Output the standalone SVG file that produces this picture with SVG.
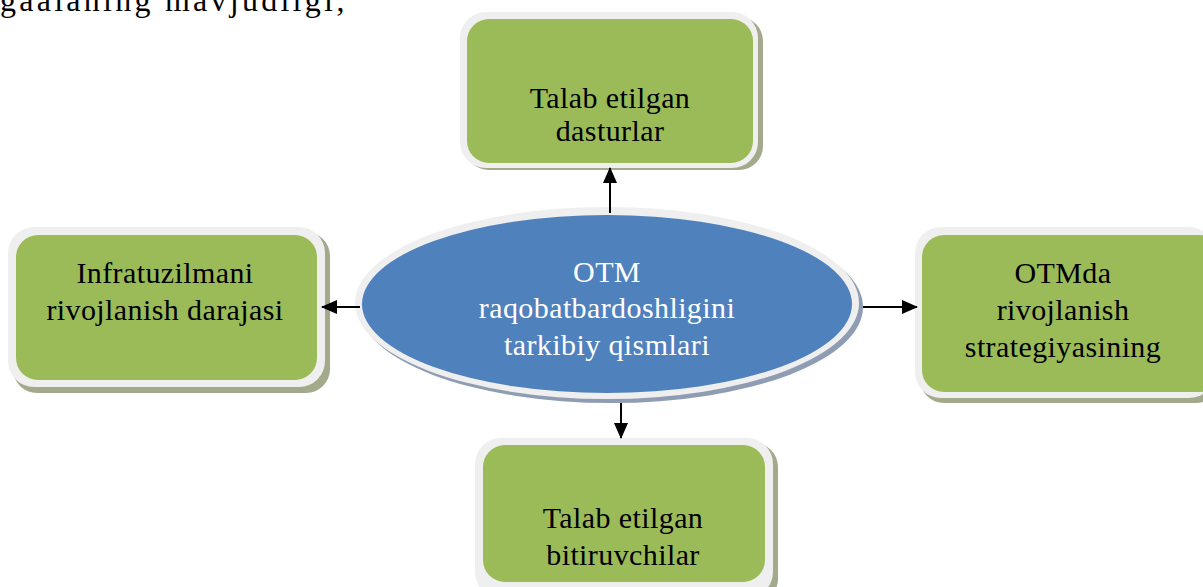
<svg xmlns="http://www.w3.org/2000/svg" width="1203" height="587" viewBox="0 0 1203 587">
<style>
.t{font-family:"Liberation Serif","DejaVu Serif",serif;font-size:30px;letter-spacing:0.4px;text-anchor:middle;fill:#000}
.top{font-family:"Liberation Serif","DejaVu Serif",serif;font-size:32px;fill:#000}
.w{fill:#fff}
.frame{fill:#efefef}
.green{fill:#9bbb59}
.shg{fill:#a3aa8c}
.shb{fill:#8e9db3}
.blue{fill:#4f81bd}
.conn{stroke:#000;stroke-width:2;fill:none}
</style>
<defs>
<marker id="ah" markerWidth="16" markerHeight="16" refX="15" refY="7" orient="auto" markerUnits="userSpaceOnUse" viewBox="0 0 16 14">
<path d="M0,0 L16,7 L0,14 z" fill="#000"/>
</marker>
</defs>
<rect width="1203" height="587" fill="#fff"/>
<text class="top" x="0" y="11" textLength="345" lengthAdjust="spacing">gaalaning mavjudligi;</text>

<g id="node-top">
<rect class="shg" x="465" y="17" width="298" height="153" rx="24"/>
<rect class="frame" x="460" y="12" width="298" height="156" rx="26"/>
<rect class="green" x="467" y="19" width="286" height="144" rx="22"/>
<text class="t" x="610" y="108">Talab etilgan</text>
<text class="t" x="610" y="141">dasturlar</text>
</g>

<g id="node-left">
<rect class="shg" x="13" y="232" width="317" height="161" rx="24"/>
<rect class="frame" x="8" y="227" width="317" height="160" rx="26"/>
<rect class="green" x="16" y="235" width="301" height="145" rx="22"/>
<text class="t" x="165" y="283">Infratuzilmani</text>
<text class="t" x="165" y="320">rivojlanish darajasi</text>
</g>

<g id="node-right">
<rect class="shg" x="920" y="232" width="300" height="171" rx="24"/>
<rect class="frame" x="915" y="227" width="300" height="171" rx="26"/>
<rect class="green" x="922" y="235" width="300" height="157" rx="22"/>
<text class="t" x="1063" y="283">OTMda</text>
<text class="t" x="1063" y="320">rivojlanish</text>
<text class="t" x="1063" y="357">strategiyasining</text>
</g>

<g id="node-bottom">
<rect class="shg" x="480" y="443" width="298" height="160" rx="24"/>
<rect class="frame" x="475" y="438" width="298" height="160" rx="26"/>
<rect class="green" x="483" y="445" width="282" height="137" rx="22"/>
<text class="t" x="623" y="528">Talab etilgan</text>
<text class="t" x="623" y="565">bitiruvchilar</text>
</g>

<g id="node-center">
<ellipse class="shb" cx="611" cy="307" rx="252" ry="96"/>
<ellipse class="frame" cx="607" cy="303" rx="252" ry="96"/>
<ellipse class="blue" cx="607" cy="304" rx="245" ry="89"/>
<text class="t w" x="607" y="282">OTM</text>
<text class="t w" x="607" y="318">raqobatbardoshligini</text>
<text class="t w" x="607" y="355">tarkibiy qismlari</text>
</g>

<g id="connectors">
<line class="conn" x1="610" y1="213" x2="610" y2="168" marker-end="url(#ah)"/>
<line class="conn" x1="360" y1="307" x2="322" y2="307" marker-end="url(#ah)"/>
<line class="conn" x1="863" y1="307" x2="917" y2="307" marker-end="url(#ah)"/>
<line class="conn" x1="621" y1="403" x2="621" y2="438" marker-end="url(#ah)"/>
</g>
</svg>
